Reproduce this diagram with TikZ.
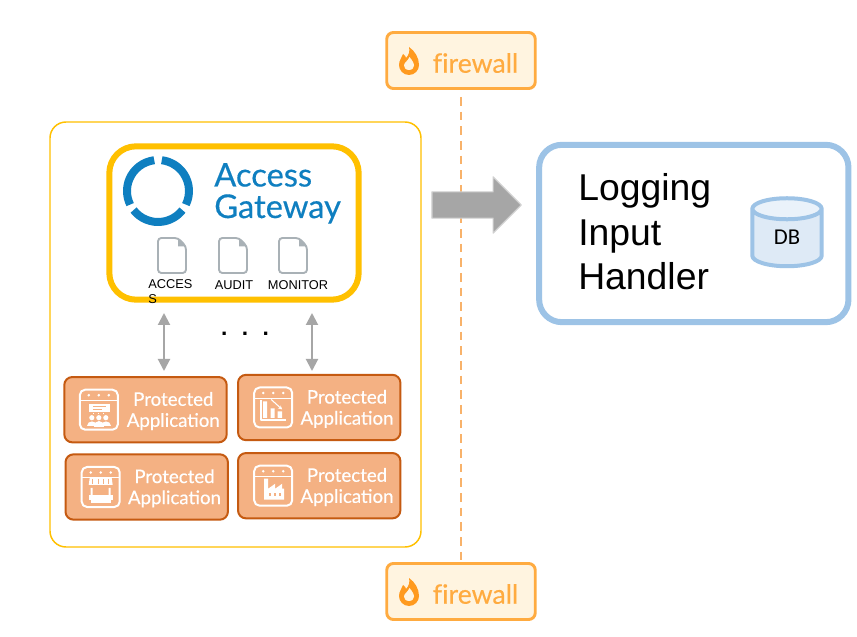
\documentclass[tikz,border=0pt]{standalone}
\usepackage{fontspec}
\setmainfont{Liberation Sans}
\newfontfamily\lato[FakeBold=0.4]{Lato}
\newfontfamily\carlito{Carlito}
\usetikzlibrary{arrows.meta,positioning,shapes.geometric,shapes.arrows}
\definecolor{gold}{HTML}{FFC000}
\definecolor{skyline}{HTML}{9DC3E6}
\definecolor{skyfill}{HTML}{DEEAF6}
\definecolor{skytop}{HTML}{EAF2FA}
\definecolor{flame}{HTML}{FFAB40}
\definecolor{flamedark}{HTML}{FF9A1F}
\definecolor{flamefill}{HTML}{FFF4E0}
\definecolor{wall}{HTML}{F8B26A}
\definecolor{appfill}{HTML}{F4B183}
\definecolor{appline}{HTML}{C55A11}
\definecolor{logoblue}{HTML}{0F7FC0}
\definecolor{arrowgrey}{HTML}{A6A6A6}
\definecolor{arrowedge}{HTML}{D0D0D0}
\definecolor{docline}{HTML}{A9B1B6}
\tikzset{
  figbase/.style={x=0.75pt, y=0.75pt, line join=round},
  outerbox/.style={draw=gold, line width=1.1pt, rounded corners=12pt, fill=white,
    minimum width=278.25pt, minimum height=318.75pt},
  gatewaybox/.style={draw=gold, line width=4.5pt, rounded corners=20pt, fill=white,
    minimum width=187pt, minimum height=115pt},
  loggingbox/.style={draw=skyline, line width=4.5pt, rounded corners=17pt, fill=white,
    minimum width=232pt, minimum height=133pt},
  fwbox/.style={draw=flame, line width=2.2pt, rounded corners=5pt, fill=flamefill,
    minimum width=111.4pt, minimum height=42pt},
  fwlab/.style={font=\fontsize{20}{22}\lato, text=flame, inner sep=0pt},
  appbox/.style={draw=appline, line width=1.5pt, rounded corners=6pt, fill=appfill,
    minimum width=121.8pt, minimum height=49pt},
  applab/.style={font=\fontsize{14}{15.8}\lato, text=white, align=center, inner sep=0pt},
  gwlab/.style={font=\fontsize{24.5}{28}\lato, text=logoblue, inner sep=0pt, anchor=base west},
  doclab/.style={font=\fontsize{9.6}{11.2}\selectfont, text=black, inner sep=0pt},
  dbl/.style={{Triangle[length=9pt,width=9pt]}-{Triangle[length=9pt,width=9pt]}, draw=arrowgrey, line width=1.5pt},
  sendarrow/.style={single arrow, draw=arrowedge, fill=arrowgrey, line width=0.9pt, inner sep=9.4pt,
    minimum height=67pt, minimum width=41pt, single arrow head extend=11.25pt},
  pics/docicon/.style={code={
    \draw[docline, line width=1.4pt, rounded corners=2.5pt]
      (-14,-17.5) -- (-14,17.5) -- (6,17.5) -- (14,9) -- (14,-17.5) -- cycle;
    \fill[docline] (6,17.5) -- (14,9) -- (6,9) -- cycle;
  }},
  pics/winicon/.style={code={
    \draw[white, line width=1.5pt, rounded corners=4pt] (-19,-20) rectangle (19,20);
    \draw[white, line width=0.5pt] (-19,9.5) -- (19,9.5);
    \foreach \dotx in {-10,0,10} \fill[white] (\dotx,14.5) circle (1.4);
  }},
  pics/crowdicon/.style={code={
    \pic {winicon};
    \fill[white] (-10,-2) rectangle (11,6);
    \draw[appfill, line width=0.5pt] (-6,3) -- (7,3) (-6,0.5) -- (3,0.5);
    \draw[white, line width=0.6pt] (-5,-3) -- (-5,-4.5) (0,-3) -- (0,-4.5) (5,-3) -- (5,-4.5);
    \foreach \headx in {-7,0,7} \fill[white] (\headx,-8) circle (2.6);
    \fill[white] (-12,-16) .. controls (-12,-10) and (-2,-10) .. (-2,-16) -- cycle;
    \fill[white] (2,-16) .. controls (2,-10) and (12,-10) .. (12,-16) -- cycle;
    \fill[white] (-5,-17) .. controls (-5,-9) and (5,-9) .. (5,-17) -- cycle;
  }},
  pics/charticon/.style={code={
    \pic {winicon};
    \draw[white, line width=1.2pt] (-12.5,7) -- (-12.5,-12.5) -- (13,-12.5);
    \fill[white] (-10,-10.5) rectangle (-6,6) (-2.5,-10.5) rectangle (1.5,-1) (4.5,-10.5) rectangle (9,-4);
    \draw[white, line width=0.8pt, -{Stealth[length=3pt,width=3pt]}] (-2,8) -- (9,-2);
  }},
  pics/shopicon/.style={code={
    \pic {winicon};
    \fill[white] (-11,9) -- (11,9) -- (12,2) -- (-12,2) -- cycle;
    \foreach \awnx in {-8,-2.7,2.7,8} \draw[appfill, line width=0.6pt] (\awnx,8) -- (\awnx,3);
    \fill[white] (-10,-1) rectangle (-8,-8) (8,-1) rectangle (10,-8);
    \fill[white] (-12,-8) rectangle (12,-13);
    \fill[white] (-10,-13) rectangle (10,-16);
  }},
  pics/factoryicon/.style={code={
    \pic {winicon};
    \fill[white] (-9,-14) -- (-9,7) -- (-5,7) -- (-5,-3) -- (2,2) -- (2,-3) -- (9,2) -- (9,-3) -- (11,-3) -- (11,-14) -- cycle;
    \foreach \winx in {-3,2,7} \fill[appfill] (\winx-1.2,-10) rectangle (\winx+1.2,-7.5);
  }},
  pics/flameicon/.style={code={
    \fill[flamedark] (0,-14) .. controls (-6,-14) and (-10,-9) .. (-10,-4)
      .. controls (-10,1) and (-7,3) .. (-6,7) .. controls (-4,6) and (-3,4) .. (-3,3)
      .. controls (0,6) and (1,10) .. (0,14) .. controls (6,10) and (10,3) .. (10,-4)
      .. controls (10,-9) and (6,-14) .. (0,-14) -- cycle;
    \fill[flamefill] (0,-9) .. controls (-3.5,-9) and (-5,-6.5) .. (-5,-4.5)
      .. controls (-5,-1.5) and (-1,0) .. (0.5,4) .. controls (3,1) and (5,-2) .. (5,-4.5)
      .. controls (5,-6.5) and (3.5,-9) .. (0,-9) -- cycle;
  }},
}
\begin{document}
\begin{tikzpicture}[figbase]
  \useasboundingbox (0,0) rectangle (857,636);

  % firewall line comes first, the arrow sits on it
  \node[fwbox] (fwtop) at (461,575.5) {};
  \node[fwbox] (fwbot) at (461,44.5) {};
  \coordinate (wallhi) at (461,539);
  \draw[wall, line width=1.5pt, dash pattern=on 6.5pt off 4.5pt] (wallhi) -- (fwbot.north);
  \pic at (409,575) {flameicon};
  \pic at (409,44) {flameicon};
  \node[fwlab] (fwtoplab) at (475.5,573) {f\kern0pt irewall};
  \node[fwlab] (fwbotlab) at (475.5,42) {f\kern0pt irewall};

  % left group
  \node[outerbox] (outer) at (235.5,301.5) {};
  \node[gatewaybox] (gateway) at (234,413) {};

  \foreach \segfrom/\segto in {97/206,218/322,334/443}
    \draw[logoblue, line width=6pt] (158,445) ++(\segfrom:31) arc[start angle=\segfrom, end angle=\segto, radius=31];
  \node[gwlab] (access) at (214,449.5) {Access};
  \node[gwlab] (gwname) at (214,418) {Gateway};

  \pic at (172,380.5) {docicon};
  \pic at (233,380.5) {docicon};
  \pic at (293,380.5) {docicon};
  \node[doclab, align=left, anchor=north west] (acc) at (148,357) {ACCES\\S};
  \node[doclab] (aud) at (234,351) {AUDIT};
  \node[doclab] (mon) at (298,351) {MONITOR};

  \foreach \name/\posx/\posy in {appa/145.5/226.3,appb/319.2/228.5,appc/146.7/149,appd/319.2/150.3} {
    \node[appbox] (\name) at (\posx,\posy) {};
    \node[applab] (\name lab) at ([xshift=20.85pt,yshift=-1pt]\name.center) {Protected\\Application};
  }
  \pic at ([xshift=-35pt]appa.center) {crowdicon};
  \pic at ([xshift=-34.5pt]appb.center) {charticon};
  \pic at ([xshift=-34.5pt]appc.center) {shopicon};
  \pic at ([xshift=-34.5pt]appd.center) {factoryicon};

  \coordinate (linkatop) at (164,323);
  \coordinate (linkabot) at (164,265);
  \coordinate (linkbtop) at (312,323);
  \coordinate (linkbbot) at (312,265);
  \draw[dbl] (linkatop) -- (linkabot);
  \draw[dbl] (linkbtop) -- (linkbbot);
  \node[font=\fontsize{17}{17}\bfseries, inner sep=0pt, anchor=base] (dots) at (245,300)
    {.\hspace{10.9pt}.\hspace{10.9pt}.};

  % right side
  \node[sendarrow] (send) at (470,431) {};
  \node[loggingbox] (logging) at (693.8,402.5) {};
  \node[font=\fontsize{28}{33.4}\selectfont, align=left, inner sep=0pt, anchor=west] (loglab) at (578,404)
    {Logging\\Input\\Handler};
  \node[cylinder, shape border rotate=90, aspect=0.8, draw=skyline, line width=3pt,
    cylinder uses custom fill, cylinder body fill=skyfill, cylinder end fill=skytop,
    minimum width=52pt, minimum height=51pt, inner sep=0pt,
    font=\fontsize{17}{17}\carlito] (db) at (787,397.5) {\raisebox{1.5pt}{DB}};
\end{tikzpicture}
\end{document}
